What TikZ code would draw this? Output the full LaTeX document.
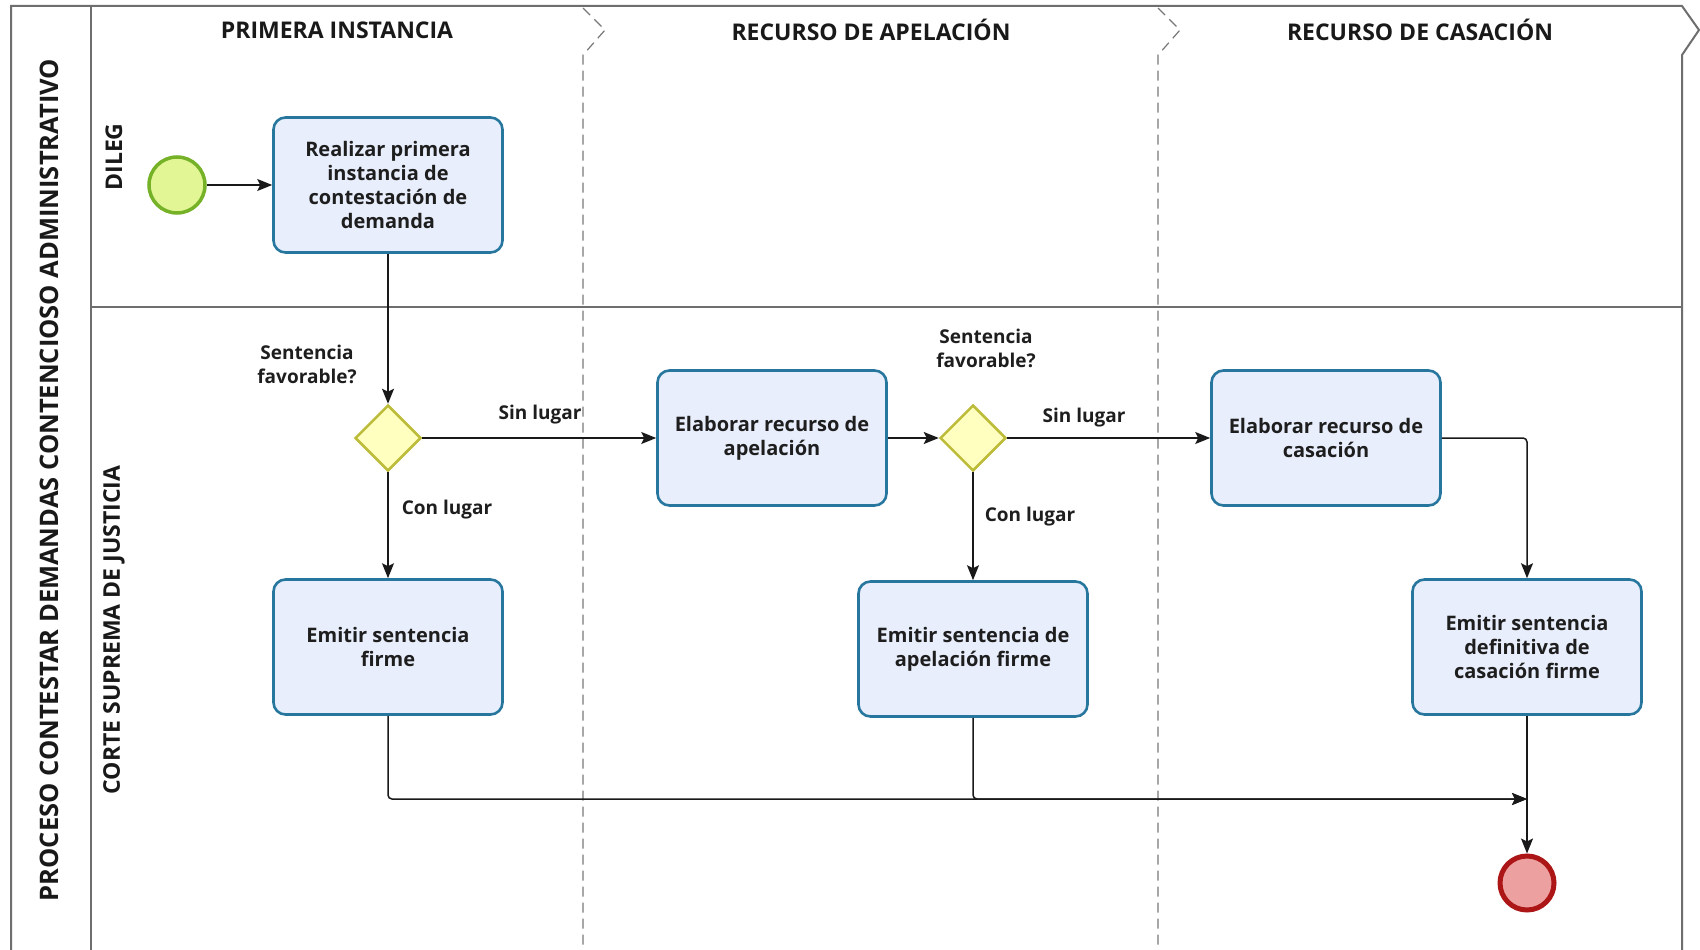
\documentclass[tikz,border=0pt]{standalone}
\usepackage{fontspec}
\setmainfont{Open Sans}
\usetikzlibrary{arrows.meta,shapes.geometric}

\definecolor{poolline}{RGB}{110,110,110}
\definecolor{sepline}{RGB}{120,120,120}
\definecolor{taskdraw}{RGB}{38,118,158}
\definecolor{taskfill}{RGB}{232,238,252}
\definecolor{startdraw}{RGB}{118,178,40}
\definecolor{startfill}{RGB}{226,246,150}
\definecolor{gwdraw}{RGB}{188,188,58}
\definecolor{gwfill}{RGB}{255,255,192}
\definecolor{enddraw}{RGB}{172,22,22}
\definecolor{endfill}{RGB}{236,160,160}
\definecolor{txt}{RGB}{30,30,30}

\tikzset{
  pool/.style={draw=poolline, line width=2pt},
  lanediv/.style={draw=poolline, line width=1.4pt},
  phasesep/.style={draw=sepline, line width=1.2pt, dash pattern=on 10pt off 6pt},
  task/.style={rectangle, rounded corners=12pt, draw=taskdraw, fill=taskfill,
    line width=2.6pt, minimum width=229pt, minimum height=135pt, inner sep=0pt,
    align=center, text=txt, font=\fontsize{20}{24}\selectfont\bfseries},
  startev/.style={circle, draw=startdraw, fill=startfill, line width=3.5pt,
    minimum size=56pt, inner sep=0pt},
  endev/.style={circle, draw=enddraw, fill=endfill, line width=5pt,
    minimum size=54pt, inner sep=0pt},
  gateway/.style={diamond, draw=gwdraw, fill=gwfill, line width=2.5pt,
    minimum width=66pt, minimum height=66pt, inner sep=0pt},
  flow/.style={draw=black!90, line width=1.5pt,
    -{Stealth[length=15pt,width=12pt,inset=3pt]}},
  flowlabel/.style={text=txt, align=center, font=\fontsize{19}{24}\selectfont\bfseries},
  header/.style={text=black!90, font=\fontsize{23}{26}\selectfont\bfseries},
  lanelabel/.style={rotate=90, text=black!90, font=\fontsize{23}{26}\selectfont\bfseries},
  poollabel/.style={rotate=90, text=black!90, font=\fontsize{25.5}{30}\selectfont\bfseries},
}

\begin{document}
\begin{tikzpicture}[x=1pt,y=-1pt]
\useasboundingbox[fill=white] (0,0) rectangle (1700,950);

% pool frame with chevron at the right
\draw[pool] (11,950) -- (11,6) -- (1682,6) -- (1699,30) -- (1682,55) -- (1682,950);
\draw[pool] (91,6) -- (91,950);
% lane divider
\draw[lanediv] (91,307) -- (1682,307);

% phase separators
\draw[phasesep] (583,8) -- (605,30) -- (583,55) -- (583,950);
\draw[phasesep] (1158,8) -- (1180,30) -- (1158,55) -- (1158,950);

% titles
\node[poollabel] (pooltitle) at (49,480) {PROCESO CONTESTAR DEMANDAS CONTENCIOSO ADMINISTRATIVO};
\node[lanelabel] (lanedileg) at (114,157) {DILEG};
\node[lanelabel] (lanecorte) at (114,630) {CORTE SUPREMA DE JUSTICIA};
\node[header] (phase1) at (337,30) {PRIMERA INSTANCIA};
\node[header] (phase2) at (871,30) {RECURSO DE APELACIÓN};
\node[header] (phase3) at (1420,30) {RECURSO DE CASACIÓN};

% flow objects
\node[startev] (start) at (177,185) {};
\node[task] (t1) at (388,185) {Realizar primera\\instancia de\\contestación de\\demanda};
\node[gateway] (g1) at (388,438) {};
\node[task] (apel) at (772,438) {Elaborar recurso de\\apelación};
\node[gateway] (g2) at (973,438) {};
\node[task] (cas) at (1326,438) {Elaborar recurso de\\casación};
\node[task] (em1) at (388,647) {Emitir sentencia\\firme};
\node[task] (em2) at (973,649) {Emitir sentencia de\\apelación firme};
\node[task] (em3) at (1527,647) {Emitir sentencia\\definitiva de\\casación firme};
\node[endev] (end) at (1527,883) {};
\coordinate (join) at (1527,799);

% gateway and flow labels
\node[flowlabel] (q1) at (307,364) {Sentencia\\favorable?};
\node[flowlabel] (q2) at (986,348) {Sentencia\\favorable?};
\node[flowlabel] (s1) at (540,415) {Sin lugar};
\node[flowlabel] (c1) at (447,510) {Con lugar};
\node[flowlabel] (s2) at (1084,418) {Sin lugar};
\node[flowlabel] (c2) at (1030,517) {Con lugar};

% sequence flows
\draw[flow] (start) -- (t1);
\draw[flow] (t1) -- (g1);
\draw[flow] (g1) -- (apel);
\draw[flow] (g1) -- (em1);
\draw[flow] (apel) -- (g2);
\draw[flow] (g2) -- (cas);
\draw[flow] (g2) -- (em2);
\draw[flow, rounded corners=4pt] (cas.east) -| (em3.north);
\draw[flow, rounded corners=4pt] (em1.south) |- (join);
\draw[flow, rounded corners=4pt] (em2.south) |- (join);
\draw[flow] (em3) -- (end);
\end{tikzpicture}
\end{document}
